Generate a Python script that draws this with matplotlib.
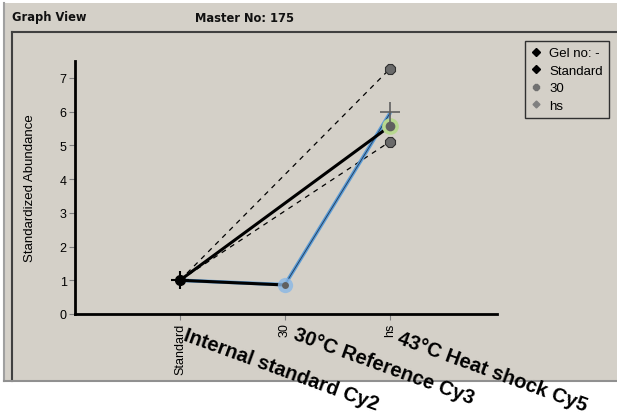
import matplotlib
matplotlib.use("Agg")
import matplotlib.pyplot as plt
from matplotlib.lines import Line2D
from matplotlib.patches import Rectangle

# Categories along the x axis
categories = ["Standard", "30", "hs"]

# Blue series (Standard -> 30 -> hs)
blue_vals = [1.0, 0.87, 5.95]
# Black solid spokes from Standard
black_vals = [1.0, 0.86, 5.57]
# Dashed spokes from Standard to hs
dashed_hs = [7.27, 5.11]
# Extra marks at hs
plus_hs = 6.0
green_hs = 5.57

# Annotation texts under the axis
dye_labels = ["Internal standard Cy2", "30\u00b0C Reference Cy3", "43\u00b0C Heat shock Cy5"]

legend_labels = ["Gel no: -", "Standard", "30", "hs"]

W, H = 617, 414
BG = "#d4d0c8"

fig = plt.figure(figsize=(W / 100, H / 100), dpi=100)
fig.patch.set_facecolor("white")


def fx(px):
    return px / W


def fy(py):
    return (H - py) / H


# window background and borders
fig.patches.append(Rectangle((fx(4), fy(382)), fx(W - 4), fy(4) - fy(382),
                             transform=fig.transFigure, facecolor=BG,
                             edgecolor="none", zorder=-10))
for xs, ys, c in [([4, 4], [4, 382], "#a0a0a0"),
                  ([12, W], [33, 33], "#404040"),
                  ([12, 12], [33, 382], "#404040"),
                  ([4, W], [382, 382], "#909090")]:
    fig.lines.append(Line2D([fx(v) for v in xs], [fy(v) for v in ys],
                            transform=fig.transFigure, color=c, lw=1.5, zorder=-5))

fig.text(fx(12), fy(18), "Graph View", fontsize=8.3, fontweight="bold",
         family="DejaVu Sans", va="center", ha="left", color="#111111")
fig.text(fx(195), fy(18), "Master No: 175", fontsize=8.3, fontweight="bold",
         family="DejaVu Sans", va="center", ha="left", color="#111111")

ax = fig.add_axes([fx(75), fy(315), fx(497) - fx(75), fy(62) - fy(315)])
ax.patch.set_alpha(0)
ax.set_xlim(-1, 3.02)
ax.set_ylim(0, 7.5)

x = list(range(len(categories)))

# dashed spokes
for v in dashed_hs:
    ax.plot([0, 2], [1.0, v], color="black", lw=0.9, ls=(0, (4, 4)), zorder=2)

# blue series
ax.plot(x, blue_vals, color="#5b9bd5", lw=2.6, zorder=3, solid_capstyle="round")
ax.plot(x, blue_vals, color="#1f3a5a", lw=0.6, zorder=4)

# black solid spokes
ax.plot([0, 1], [black_vals[0], black_vals[1]], color="black", lw=2.2, zorder=5)
ax.plot([0, 2], [black_vals[0], black_vals[2]], color="black", lw=2.2, zorder=5)

# points
ax.plot([1], [blue_vals[1]], "o", ms=11, color="#8ab8e6", alpha=0.8, mec="none", zorder=6)
ax.plot([1], [blue_vals[1]], "o", ms=5, color="#606060", mec="none", zorder=7)
ax.plot([2], [green_hs], "o", ms=12, color="#b8d890", mec="none", zorder=6)
ax.plot([2], [green_hs], "o", ms=7, color="#606060", mec="none", zorder=7)
ax.plot([2], [plus_hs], "+", ms=14, color="#606060", mew=1.2, zorder=7)
for v in dashed_hs:
    ax.plot([2], [v], "8", ms=8, color="#6a6a6a", mec="#303030", mew=0.8, zorder=7)
ax.plot([0], [1.0], "o", ms=7, color="black", zorder=8)
ax.plot([0], [1.0], "+", ms=13, color="black", mew=1.5, zorder=8)

# axes styling
for s in ["top", "right"]:
    ax.spines[s].set_visible(False)
ax.spines["left"].set_linewidth(2)
ax.spines["bottom"].set_linewidth(2)
ax.set_yticks(range(8))
ax.set_xticks(x)
ax.set_xticklabels(categories, rotation=90)
ax.tick_params(axis="both", length=4, width=0.8, color="#808080",
               labelsize=9, pad=2)
for lab in ax.get_xticklabels() + ax.get_yticklabels():
    lab.set_family("Liberation Sans")
ax.set_ylabel("Standardized Abundance", fontsize=9.5, family="Liberation Sans")
ax.yaxis.set_label_coords((36 - 75) / 422, 0.5)

# legend
handles = [
    Line2D([], [], marker="D", ls="none", ms=4, color="black"),
    Line2D([], [], marker="D", ls="none", ms=4, color="black"),
    Line2D([], [], marker="8", ls="none", ms=4.5, color="#707070"),
    Line2D([], [], marker="D", ls="none", ms=3.5, color="#808080"),
]
leg = fig.legend(handles, legend_labels, loc="upper left",
                 bbox_to_anchor=(fx(525), fy(42)), bbox_transform=fig.transFigure,
                 prop={"family": "Liberation Sans", "size": 9.5},
                 handlelength=0.8, handletextpad=0.6, labelspacing=0.4,
                 borderpad=0.45, borderaxespad=0, fancybox=False, framealpha=1)
leg.get_frame().set_facecolor(BG)
leg.get_frame().set_edgecolor("#303030")
leg.get_frame().set_linewidth(1)

# rotated dye labels
pos = [(187, 326), (297, 325), (401, 329)]
for (px, py), txt in zip(pos, dye_labels):
    fig.text(fx(px), fy(py), txt, fontsize=14.5, fontweight="bold",
             family="Liberation Sans", rotation=-20, rotation_mode="anchor",
             ha="left", va="top", color="black")

fig.savefig("out.png", dpi=100, facecolor=fig.get_facecolor())
